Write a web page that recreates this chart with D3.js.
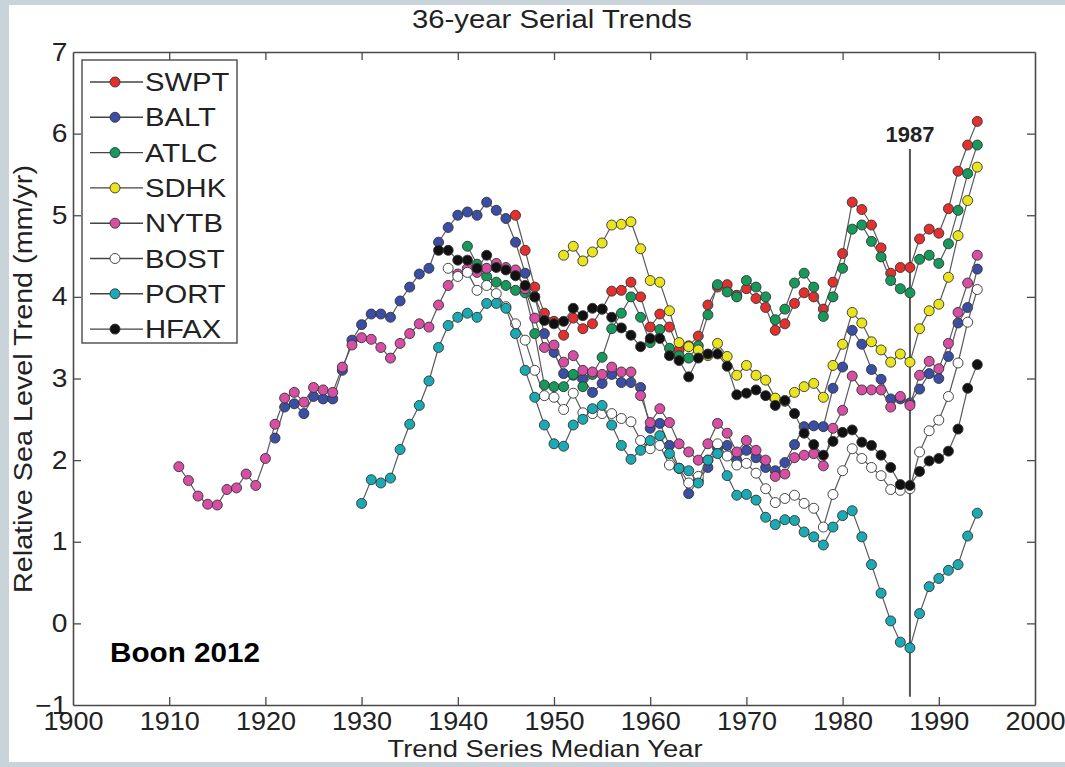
<!DOCTYPE html>
<html>
<head>
<meta charset="utf-8">
<script src="https://cdn.jsdelivr.net/npm/d3@7"></script>
<style>
  body { margin: 0; background: #c8d3da; }
  svg { display: block; font-family: "Liberation Sans", Arial, sans-serif; }
</style>
</head>
<body>
<div id="chart"></div>
<script>
// Series names, start years and yearly values (mm/yr)
const seriesNames = ["SWPT", "BALT", "ATLC", "SDHK", "NYTB", "BOST", "PORT", "HFAX"];
const seriesColors = ["#e3302f", "#3a4ea6", "#16995a", "#e9e41e", "#d64fa3", "#ffffff", "#1ba9b3", "#111111"];
const seriesStart = [1946, 1921, 1941, 1951, 1911, 1939, 1930, 1938];

const swpt = [5.0, 4.57, 4.12, 3.8, 3.7, 3.53, 3.74, 3.61, 3.67, 3.85, 4.07, 4.08, 4.18, 4.0, 3.63,
  3.79, 3.63, 3.35, 3.4, 3.52, 3.9, 4.12, 4.15, 4.02, 4.1, 3.98, 3.87, 3.59, 3.67, 3.92,
  4.05, 4.0, 3.85, 4.18, 4.53, 5.16, 5.07, 4.88, 4.6, 4.29, 4.36, 4.36, 4.71, 4.83, 4.78,
  5.08, 5.54, 5.86, 6.15];
const balt = [2.27, 2.65, 2.69, 2.57, 2.78, 2.75, 2.75, 3.1, 3.47, 3.66, 3.79, 3.79, 3.75, 3.95, 4.12,
  4.28, 4.35, 4.67, 4.85, 5.0, 5.04, 5.0, 5.16, 5.06, 4.96, 4.67, 4.29, 4.0, 3.55, 3.32,
  3.06, 3.04, 3.0, 2.83, 2.94, 3.05, 2.95, 2.95, 2.89, 2.39, 2.45, 2.18, 1.9, 1.59, 1.75,
  1.91, 2.15, 2.18, 2.0, 2.12, 2.03, 1.91, 1.87, 1.97, 2.19, 2.41, 2.42, 2.41, 2.88, 3.14,
  3.59, 3.42, 3.11, 2.99, 2.75, 2.75, 2.7, 2.87, 3.06, 3.0, 3.27, 3.68, 3.87, 4.34];
const atlc = [4.62, 4.4, 4.25, 4.18, 4.14, 4.08, 4.05, 3.55, 2.92, 2.9, 2.9, 3.05, 2.9, 3.05, 3.26,
  3.61, 3.8, 4.0, 3.75, 3.44, 3.6, 3.37, 3.28, 3.25, 3.4, 3.78, 4.15, 4.06, 4.0, 4.2,
  4.12, 4.0, 3.72, 3.85, 4.17, 4.29, 4.12, 3.76, 4.0, 4.35, 4.83, 4.88, 4.68, 4.49, 4.2,
  4.1, 4.05, 4.46, 4.51, 4.41, 4.65, 5.06, 5.51, 5.86];
const sdhk = [4.51, 4.62, 4.44, 4.55, 4.66, 4.88, 4.89, 4.92, 4.59, 4.2, 4.18, 3.83, 3.44, 3.39, 3.35,
  3.28, 3.43, 3.27, 3.04, 3.16, 3.04, 2.98, 2.76, 2.72, 2.83, 2.9, 2.94, 2.77, 3.16, 3.42,
  3.81, 3.68, 3.45, 3.35, 3.2, 3.3, 3.2, 3.61, 3.83, 3.91, 4.24, 4.75, 5.18, 5.59];
const nytb = [1.92, 1.75, 1.56, 1.46, 1.45, 1.64, 1.66, 1.83, 1.69, 2.02, 2.44, 2.76, 2.83, 2.71, 2.89,
  2.86, 2.83, 3.14, 3.41, 3.5, 3.48, 3.38, 3.25, 3.43, 3.55, 3.67, 3.63, 3.9, 4.14, 4.28,
  4.35, 4.3, 4.35, 4.41, 4.36, 4.33, 4.1, 3.74, 3.38, 3.41, 3.2, 3.28, 3.1, 3.08, 3.05,
  3.14, 3.08, 3.08, 2.79, 2.46, 2.63, 2.46, 2.2, 2.1, 2.0, 2.2, 2.45, 2.33, 2.1, 2.24,
  2.12, 2.0, 1.8, 1.83, 2.03, 2.06, 2.08, 1.93, 2.39, 2.61, 3.03, 2.86, 2.86, 2.86, 2.65,
  2.78, 2.67, 3.04, 3.21, 3.12, 3.43, 3.81, 4.17, 4.51];
const bost = [4.35, 4.25, 4.3, 4.08, 4.14, 4.04, 3.88, 3.67, 3.47, 3.1, 2.79, 2.77, 2.62, 2.82, 2.58,
  2.57, 2.57, 2.57, 2.51, 2.47, 2.24, 2.14, 2.18, 1.94, 1.9, 1.72, 1.8, 2.0, 2.2, 2.05,
  1.94, 1.96, 1.84, 1.65, 1.48, 1.53, 1.57, 1.47, 1.41, 1.18, 1.58, 1.87, 2.14, 2.02, 1.91,
  1.81, 1.64, 1.63, 1.65, 2.1, 2.36, 2.49, 2.78, 3.19, 3.69, 4.09];
const port = [1.47, 1.76, 1.72, 1.78, 2.13, 2.44, 2.67, 2.97, 3.38, 3.65, 3.75, 3.8, 3.75, 3.92, 3.92,
  3.86, 3.55, 3.1, 2.77, 2.43, 2.2, 2.17, 2.43, 2.5, 2.63, 2.67, 2.43, 2.18, 2.01, 2.12,
  2.24, 2.3, 2.08, 1.9, 1.87, 1.72, 2.0, 2.08, 1.81, 1.57, 1.58, 1.51, 1.3, 1.21, 1.27,
  1.26, 1.12, 1.06, 0.96, 1.18, 1.32, 1.38, 1.06, 0.72, 0.37, 0.03, -0.23, -0.3, 0.12, 0.45,
  0.55, 0.65, 0.72, 1.07, 1.35];
const hfax = [4.57, 4.57, 4.45, 4.45, 4.35, 4.51, 4.36, 4.33, 4.26, 4.14, 4.0, 3.71, 3.67, 3.7, 3.86,
  3.77, 3.86, 3.85, 3.75, 3.62, 3.53, 3.39, 3.49, 3.49, 3.28, 3.22, 3.02, 3.25, 3.3, 3.3,
  3.15, 2.8, 2.82, 2.86, 2.79, 2.67, 2.73, 2.57, 2.33, 2.19, 2.06, 2.23, 2.34, 2.37, 2.22,
  2.18, 2.06, 1.91, 1.7, 1.69, 1.86, 1.99, 2.02, 2.11, 2.38, 2.88, 3.17];
const seriesValues = [swpt, balt, atlc, sdhk, nytb, bost, port, hfax];

const xTicks = [1900, 1910, 1920, 1930, 1940, 1950, 1960, 1970, 1980, 1990, 2000];
const yTicks = [-1, 0, 1, 2, 3, 4, 5, 6, 7];
const markYear = 1987;

const width = 1065, height = 767;
const margin = { left: 73, right: 30, top: 52, bottom: 62 };

const svg = d3.select("#chart").append("svg")
  .attr("width", width)
  .attr("height", height);

// grey frame with the white panel inside
svg.append("rect").attr("width", width).attr("height", height).attr("fill", "#c8d3da");
svg.append("rect").attr("x", 9).attr("y", 5).attr("width", width - 9).attr("height", 757).attr("fill", "#ffffff");

const x = d3.scaleLinear().domain([1900, 2000]).range([margin.left, width - margin.right]);
const y = d3.scaleLinear().domain([-1, 7]).range([height - margin.bottom, margin.top]);

const axisColor = "#4a4a4a";

// axes, ticks pointing inwards on all four sides
const gx = svg.append("g").attr("transform", `translate(0,${y(-1)})`)
  .call(d3.axisBottom(x).tickValues(xTicks).tickFormat(d3.format("d")).tickSize(-8).tickSizeOuter(0).tickPadding(7));
const gxTop = svg.append("g").attr("transform", `translate(0,${y(7)})`)
  .call(d3.axisTop(x).tickValues(xTicks).tickFormat("").tickSize(-8).tickSizeOuter(0));
const gy = svg.append("g").attr("transform", `translate(${x(1900)},0)`)
  .call(d3.axisLeft(y).tickValues(yTicks).tickFormat(d3.format("d")).tickSize(-8).tickSizeOuter(0).tickPadding(5));
const gyRight = svg.append("g").attr("transform", `translate(${x(2000)},0)`)
  .call(d3.axisRight(y).tickValues(yTicks).tickFormat("").tickSize(-8).tickSizeOuter(0));

[gx, gxTop, gy, gyRight].forEach(g => {
  g.select(".domain").attr("stroke", axisColor).attr("stroke-width", 1.6);
  g.selectAll(".tick line").attr("stroke", axisColor).attr("stroke-width", 1.3);
  g.selectAll(".tick text")
    .attr("fill", "#222")
    .style("font-size", "25px");
});
gx.selectAll(".tick text").attr("transform", "scale(1.08,1)");
gy.selectAll(".tick text").attr("transform", "scale(1.13,1)");

// the first and last tick marks sit on the box corners, hide them
gx.selectAll(".tick line").filter(d => d === 1900 || d === 2000).remove();
gxTop.selectAll(".tick line").filter(d => d === 1900 || d === 2000).remove();
gy.selectAll(".tick line").filter(d => d === -1 || d === 7).remove();
gyRight.selectAll(".tick line").filter(d => d === -1 || d === 7).remove();

// vertical marker line at 1987
svg.append("line")
  .attr("x1", x(markYear)).attr("x2", x(markYear))
  .attr("y1", 149).attr("y2", y(-0.9))
  .attr("stroke", "#555").attr("stroke-width", 2);
svg.append("text")
  .attr("x", x(markYear)).attr("y", 142)
  .attr("text-anchor", "middle")
  .style("font-size", "22px").style("font-weight", "bold")
  .attr("fill", "#222")
  .text(String(markYear));

// one line plus markers per station
const line = d3.line().x(d => x(d.year)).y(d => y(d.value));

seriesNames.forEach((name, i) => {
  const pts = seriesValues[i].map((v, j) => ({ year: seriesStart[i] + j, value: v }));
  const g = svg.append("g").attr("class", "series " + name);
  g.append("path")
    .datum(pts)
    .attr("d", line)
    .attr("fill", "none")
    .attr("stroke", "#5a5a5a")
    .attr("stroke-width", 1.2);
  g.selectAll("circle")
    .data(pts)
    .enter()
    .append("circle")
    .attr("cx", d => x(d.year))
    .attr("cy", d => y(d.value))
    .attr("r", 5)
    .attr("fill", seriesColors[i])
    .attr("stroke", "#333")
    .attr("stroke-width", 0.9);
});

// legend box
const legend = svg.append("g");
legend.append("rect")
  .attr("x", 82).attr("y", 60)
  .attr("width", 155).attr("height", 283)
  .attr("fill", "#fff")
  .attr("stroke", axisColor)
  .attr("stroke-width", 1.4);

const items = legend.selectAll(".legend-item")
  .data(seriesNames)
  .enter()
  .append("g")
  .attr("class", "legend-item")
  .attr("transform", (d, i) => `translate(0,${82 + i * 35.3})`);

items.append("line")
  .attr("x1", 90).attr("x2", 143)
  .attr("stroke", "#444").attr("stroke-width", 1.4);
items.append("circle")
  .attr("cx", 115).attr("r", 5)
  .attr("fill", (d, i) => seriesColors[i])
  .attr("stroke", "#333").attr("stroke-width", 0.9);
items.append("text")
  .attr("transform", "translate(145,9) scale(1.17,1)")
  .style("font-size", "25px")
  .attr("fill", "#222")
  .text(d => d);

// titles
svg.append("text")
  .attr("x", 552).attr("y", 28)
  .attr("text-anchor", "middle")
  .attr("textLength", 280).attr("lengthAdjust", "spacingAndGlyphs")
  .style("font-size", "25px")
  .attr("fill", "#222")
  .text("36-year Serial Trends");

svg.append("text")
  .attr("x", 545).attr("y", 757)
  .attr("text-anchor", "middle")
  .attr("textLength", 315).attr("lengthAdjust", "spacingAndGlyphs")
  .style("font-size", "24px")
  .attr("fill", "#222")
  .text("Trend Series Median Year");

svg.append("text")
  .attr("transform", "translate(32,379) rotate(-90)")
  .attr("text-anchor", "middle")
  .attr("textLength", 428).attr("lengthAdjust", "spacingAndGlyphs")
  .style("font-size", "26px")
  .attr("fill", "#222")
  .text("Relative Sea Level Trend (mm/yr)");

svg.append("text")
  .attr("x", 110).attr("y", 662)
  .attr("textLength", 150).attr("lengthAdjust", "spacingAndGlyphs")
  .style("font-size", "28px").style("font-weight", "bold")
  .attr("fill", "#000")
  .text("Boon 2012");

// grey strip along the bottom edge of the frame
svg.append("rect").attr("x", 0).attr("y", 762).attr("width", width).attr("height", 5).attr("fill", "#c8d3da");
</script>
</body>
</html>
